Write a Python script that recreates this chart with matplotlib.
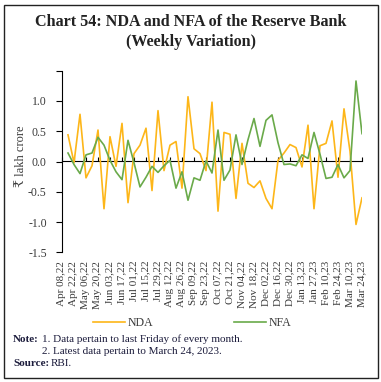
import numpy as np
import matplotlib
matplotlib.use('Agg')
import matplotlib.pyplot as plt
from matplotlib.patches import Rectangle

# 字体设置
plt.rcParams['font.family'] = ['Liberation Serif', 'DejaVu Serif', 'DejaVu Sans']

# 周度日期 (Apr 08, 2022 - Mar 24, 2023)
weeks = ['Apr 08,22', 'Apr 15,22', 'Apr 22,22', 'Apr 29,22', 'May 06,22', 'May 13,22',
         'May 20,22', 'May 27,22', 'Jun 03,22', 'Jun 10,22', 'Jun 17,22', 'Jun 24,22',
         'Jul 01,22', 'Jul 08,22', 'Jul 15,22', 'Jul 22,22', 'Jul 29,22', 'Aug 05,22',
         'Aug 12,22', 'Aug 19,22', 'Aug 26,22', 'Sep 02,22', 'Sep 09,22', 'Sep 16,22',
         'Sep 23,22', 'Sep 30,22', 'Oct 07,22', 'Oct 14,22', 'Oct 21,22', 'Oct 28,22',
         'Nov 04,22', 'Nov 11,22', 'Nov 18,22', 'Nov 25,22', 'Dec 02,22', 'Dec 09,22',
         'Dec 16,22', 'Dec 23,22', 'Dec 30,22', 'Jan 06,23', 'Jan 13,23', 'Jan 20,23',
         'Jan 27,23', 'Feb 03,23', 'Feb 10,23', 'Feb 17,23', 'Feb 24,23', 'Mar 03,23',
         'Mar 10,23', 'Mar 17,23', 'Mar 24,23']

# 周度变化 (₹ lakh crore)，第一周无数据
nda = [np.nan,
       0.44, -0.02, 0.78, -0.27, -0.07, 0.52, -0.78, 0.41, -0.08, 0.63,
       -0.68, 0.13, 0.27, 0.55, -0.48, 0.84, -0.15, 0.27, 0.33, -0.44,
       1.07, 0.21, 0.13, -0.15, 0.98, -0.82, 0.48, 0.45, -0.61, 0.30,
       -0.36, -0.43, -0.32, -0.61, -0.78, 0.02, 0.14, 0.28, 0.23, -0.09,
       0.60, -0.78, 0.26, 0.30, 0.67, -0.26, 0.87, 0.17, -1.04, -0.60]
nfa = [np.nan,
       0.14, -0.05, -0.20, 0.11, 0.14, 0.40, 0.27, 0.02, -0.17, -0.30,
       0.35, -0.02, -0.42, -0.26, -0.08, -0.18, -0.07, 0.02, -0.44, -0.17,
       -0.64, -0.27, -0.31, 0.01, -0.19, 0.52, -0.31, -0.14, 0.44, -0.05,
       0.36, 0.71, 0.25, 0.68, 0.77, 0.31, -0.05, -0.04, -0.07, 0.11,
       0.05, 0.48, 0.12, -0.28, -0.26, -0.05, -0.27, -0.15, 1.33, 0.46]

y_ticks = [-1.5, -1.0, -0.5, 0.0, 0.5, 1.0, 1.5]
y_labels = ['-1.5', '-1.0', '-0.5', '0.0', '0.5', '1.0', '']

nda_color = '#FDB619'
nfa_color = '#6AAA4A'
text_color = '#3a3a3a'
note_color = '#1c1c3c'

fig = plt.figure(figsize=(3.81, 3.82), dpi=100)
fig.patch.set_facecolor('white')

# 外框
fig.patches.append(Rectangle((3.5 / 381, 1 - 377.5 / 382), 374.5 / 381, 372.5 / 382,
                             transform=fig.transFigure, fill=False,
                             edgecolor='#222222', linewidth=1.0))

# 标题
fig.text(0.5, 1 - 22 / 382, 'Chart 54: NDA and NFA of the Reserve Bank',
         ha='center', va='center', fontsize=11.6, fontweight='bold', color='#222222')
fig.text(0.5, 1 - 42 / 382, '(Weekly Variation)',
         ha='center', va='center', fontsize=11.6, fontweight='bold', color='#222222')

ax = fig.add_axes([62 / 381, 1 - 252.3 / 382, 300 / 381, 181.6 / 382])
x = np.arange(len(weeks))
ax.plot(x, nda, color=nda_color, lw=1.2, label='NDA')
ax.plot(x, nfa, color=nfa_color, lw=1.2, label='NFA')

ax.set_xlim(0, len(weeks) - 1)
ax.set_ylim(-1.5, 1.5)
ax.set_yticks(y_ticks)
ax.set_yticklabels(y_labels)
ax.tick_params(axis='y', direction='out', length=4, width=0.8,
               labelsize=8.5, labelcolor=text_color, pad=7)
ax.set_ylabel('₹ lakh crore', fontsize=9, color=text_color, labelpad=2)
ax.yaxis.set_label_coords(-0.115, 0.53)

for s in ['top', 'right', 'bottom']:
    ax.spines[s].set_visible(False)
ax.spines['left'].set_linewidth(0.8)

# 类别标签在底部
tick_pos = x[::2]
ax.set_xticks(tick_pos)
ax.set_xticklabels(weeks[::2], rotation=90, fontsize=8, color=text_color)
ax.tick_params(axis='x', length=0, pad=6)

# 零线及刻度
zero_ax = ax.secondary_xaxis(0.5)
zero_ax.set_xticks(tick_pos)
zero_ax.set_xticklabels([])
zero_ax.tick_params(direction='out', length=3, width=0.8)
zero_ax.spines['bottom'].set_linewidth(0.9)

# 图例
fig.legend(loc='center', bbox_to_anchor=(0.505, 1 - 323 / 382), ncol=2,
           frameon=False, fontsize=8.5, handlelength=2.7, columnspacing=6.8,
           handletextpad=0.25, labelcolor=text_color)

# 注释
fs = 8
fig.text(13 / 381, 1 - 339 / 382, 'Note:', fontsize=fs, fontweight='bold',
         color=note_color, va='center')
fig.text(42 / 381, 1 - 339 / 382, '1. Data pertain to last Friday of every month.',
         fontsize=fs, color=note_color, va='center')
fig.text(42 / 381, 1 - 351 / 382, '2. Latest data pertain to March 24, 2023.',
         fontsize=fs, color=note_color, va='center')
fig.text(13 / 381, 1 - 364 / 382, 'Source:', fontsize=fs, fontweight='bold',
         color=note_color, va='center')
fig.text(51 / 381, 1 - 364 / 382, 'RBI.', fontsize=fs, color=note_color, va='center')

fig.savefig('out.png', dpi=100)
